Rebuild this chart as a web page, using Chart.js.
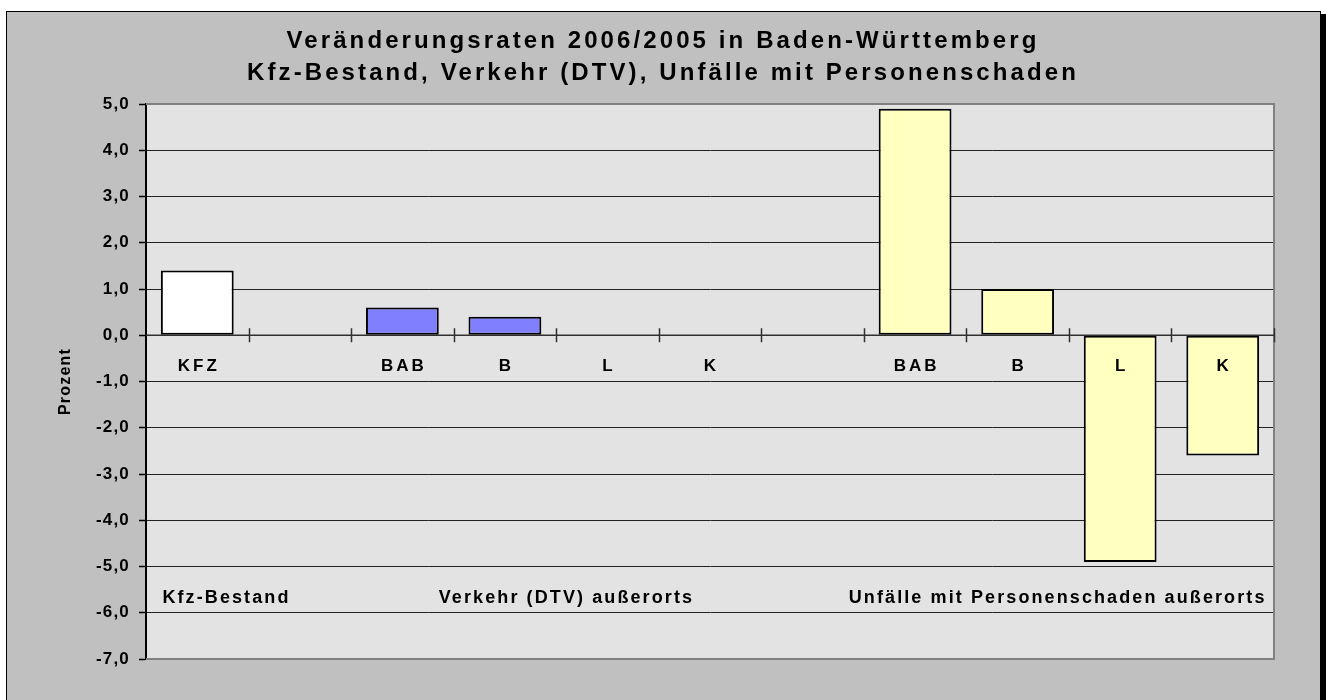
<!DOCTYPE html>
<html>
<head>
<meta charset="utf-8">
<script src="https://cdn.jsdelivr.net/npm/chart.js@4.4.1/dist/chart.umd.min.js"></script>
<style>
html, body { margin: 0; padding: 0; background: #fff; overflow: hidden; }
#wrap { position: relative; width: 1326px; height: 700px; }
#frame { position: absolute; left: 6px; top: 11px; width: 1313px; height: 700px;
    background: #c0c0c0; border: 1px solid #000; box-shadow: 5px 3px 0 #000; }
#c { position: absolute; left: 0; top: 0; }
</style>
</head>
<body>
<div id="wrap">
    <div id="frame"></div>
    <canvas id="c" width="1326" height="700"></canvas>
</div>
<script>
// Veränderungsraten 2006/2005 in Prozent
const categories = ['KFZ', '', 'BAB', 'B', 'L', 'K', '', 'BAB', 'B', 'L', 'K'];
const kfzBestand = [1.4, null, null, null, null, null, null, null, null, null, null];
const verkehrDTV = [null, null, 0.6, 0.4, 0.0, 0.0, null, null, null, null, null];
const unfaelle   = [null, null, null, null, null, null, null, 4.9, 1.0, -4.9, -2.6];
const groupNames = ['Kfz-Bestand', 'Verkehr (DTV) außerorts', 'Unfälle mit Personenschaden außerorts'];
const titleLines = ['Veränderungsraten 2006/2005 in Baden-Württemberg',
                    'Kfz-Bestand, Verkehr (DTV), Unfälle mit Personenschaden'];
const yMin = -7, yMax = 5, yStep = 1;

const FONT = "'Liberation Sans', Arial, sans-serif";

function mkDataset(label, data, color) {
    return { label, data, backgroundColor: color, borderColor: '#000', borderWidth: 2,
        borderSkipped: false, categoryPercentage: 1, barPercentage: 0.71 };
}

// Excel-Optik: Titel, Achse bei 0, Beschriftungen im Diagramm
const excelPlugin = {
    id: 'excel',
    beforeDraw(chart) {
        const { ctx, chartArea: a } = chart;
        ctx.save();
        ctx.fillStyle = '#e3e3e3';
        ctx.fillRect(a.left, a.top, a.right - a.left, a.bottom - a.top);
        ctx.restore();

        ctx.save();
        ctx.fillStyle = '#000';
        ctx.font = 'bold 24px ' + FONT;
        ctx.letterSpacing = '3.1px';
        ctx.textAlign = 'center';
        ctx.textBaseline = 'middle';
        ctx.fillText(titleLines[0], 663, 41);
        ctx.fillText(titleLines[1], 663, 73);
        ctx.restore();
        ctx.letterSpacing = '1.2px';
    },
    afterDatasetsDraw(chart) {
        const { ctx, chartArea: a, scales: { x, y } } = chart;
        const y0 = y.getPixelForValue(0);
        const step = x.getPixelForValue(1) - x.getPixelForValue(0);
        ctx.save();
        ctx.letterSpacing = '0px';
        // Rahmen der Zeichnungsfläche
        ctx.strokeStyle = '#808080';
        ctx.lineWidth = 2;
        ctx.beginPath();
        ctx.moveTo(a.left, a.top); ctx.lineTo(a.right, a.top);
        ctx.lineTo(a.right, a.bottom); ctx.lineTo(a.left, a.bottom);
        ctx.stroke();
        // Rubrikenachse bei 0
        ctx.strokeStyle = '#303030';
        ctx.lineWidth = 1.5;
        ctx.beginPath();
        ctx.moveTo(a.left, y0); ctx.lineTo(a.right, y0);
        for (let i = 0; i < categories.length; i++) {
            const px = Math.round(x.getPixelForValue(i) + step / 2) + 0.5;
            ctx.moveTo(px, y0 - 7); ctx.lineTo(px, y0 + 7);
        }
        ctx.stroke();
        // Rubrikenbeschriftung
        ctx.fillStyle = '#000';
        ctx.font = 'bold 17px ' + FONT;
        ctx.letterSpacing = '3px';
        ctx.textAlign = 'center';
        ctx.textBaseline = 'middle';
        const ly = y.getPixelForValue(-0.67);
        categories.forEach((c, i) => { if (c) ctx.fillText(c, x.getPixelForValue(i) + 1.5, ly); });
        // Gruppenbeschriftung
        const gy = y.getPixelForValue(-5.68);
        ctx.font = 'bold 18px ' + FONT;
        ctx.letterSpacing = '2.1px';
        ctx.textAlign = 'left';
        ctx.fillText(groupNames[0], x.getPixelForValue(-0.34), gy);
        ctx.textAlign = 'center';
        ctx.fillText(groupNames[1], x.getPixelForValue(3.6), gy);
        ctx.fillText(groupNames[2], x.getPixelForValue(8.39), gy);
        ctx.restore();
    },
    afterDraw(chart) {
        chart.ctx.letterSpacing = '0px';
    }
};

new Chart(document.getElementById('c'), {
    type: 'bar',
    data: {
        labels: categories,
        datasets: [
            mkDataset(groupNames[0], kfzBestand, '#ffffff'),
            mkDataset(groupNames[1], verkehrDTV, '#8080ff'),
            mkDataset(groupNames[2], unfaelle, '#ffffc0')
        ]
    },
    options: {
        responsive: false,
        animation: false,
        layout: { padding: { left: 46, right: 52, top: 104, bottom: 41 } },
        plugins: { legend: { display: false }, tooltip: { enabled: false }, title: { display: false } },
        datasets: { bar: { grouped: false } },
        scales: {
            x: { display: false },
            y: {
                min: yMin, max: yMax,
                ticks: {
                    stepSize: yStep, color: '#000', padding: 9,
                    font: { family: FONT, size: 17, weight: 'bold' },
                    callback: v => v.toFixed(1).replace('.', ',')
                },
                grid: { color: '#222', lineWidth: 1, tickLength: 7, tickColor: '#000', tickWidth: 1.5 },
                border: { display: true, color: '#000', width: 2 },
                title: {
                    display: true, text: 'Prozent', color: '#000',
                    font: { family: FONT, size: 16, weight: 'bold' },
                    padding: { top: 10, bottom: 0 }
                },
                afterFit: s => { s.width = 100; }
            }
        }
    },
    plugins: [excelPlugin]
});
</script>
</body>
</html>
